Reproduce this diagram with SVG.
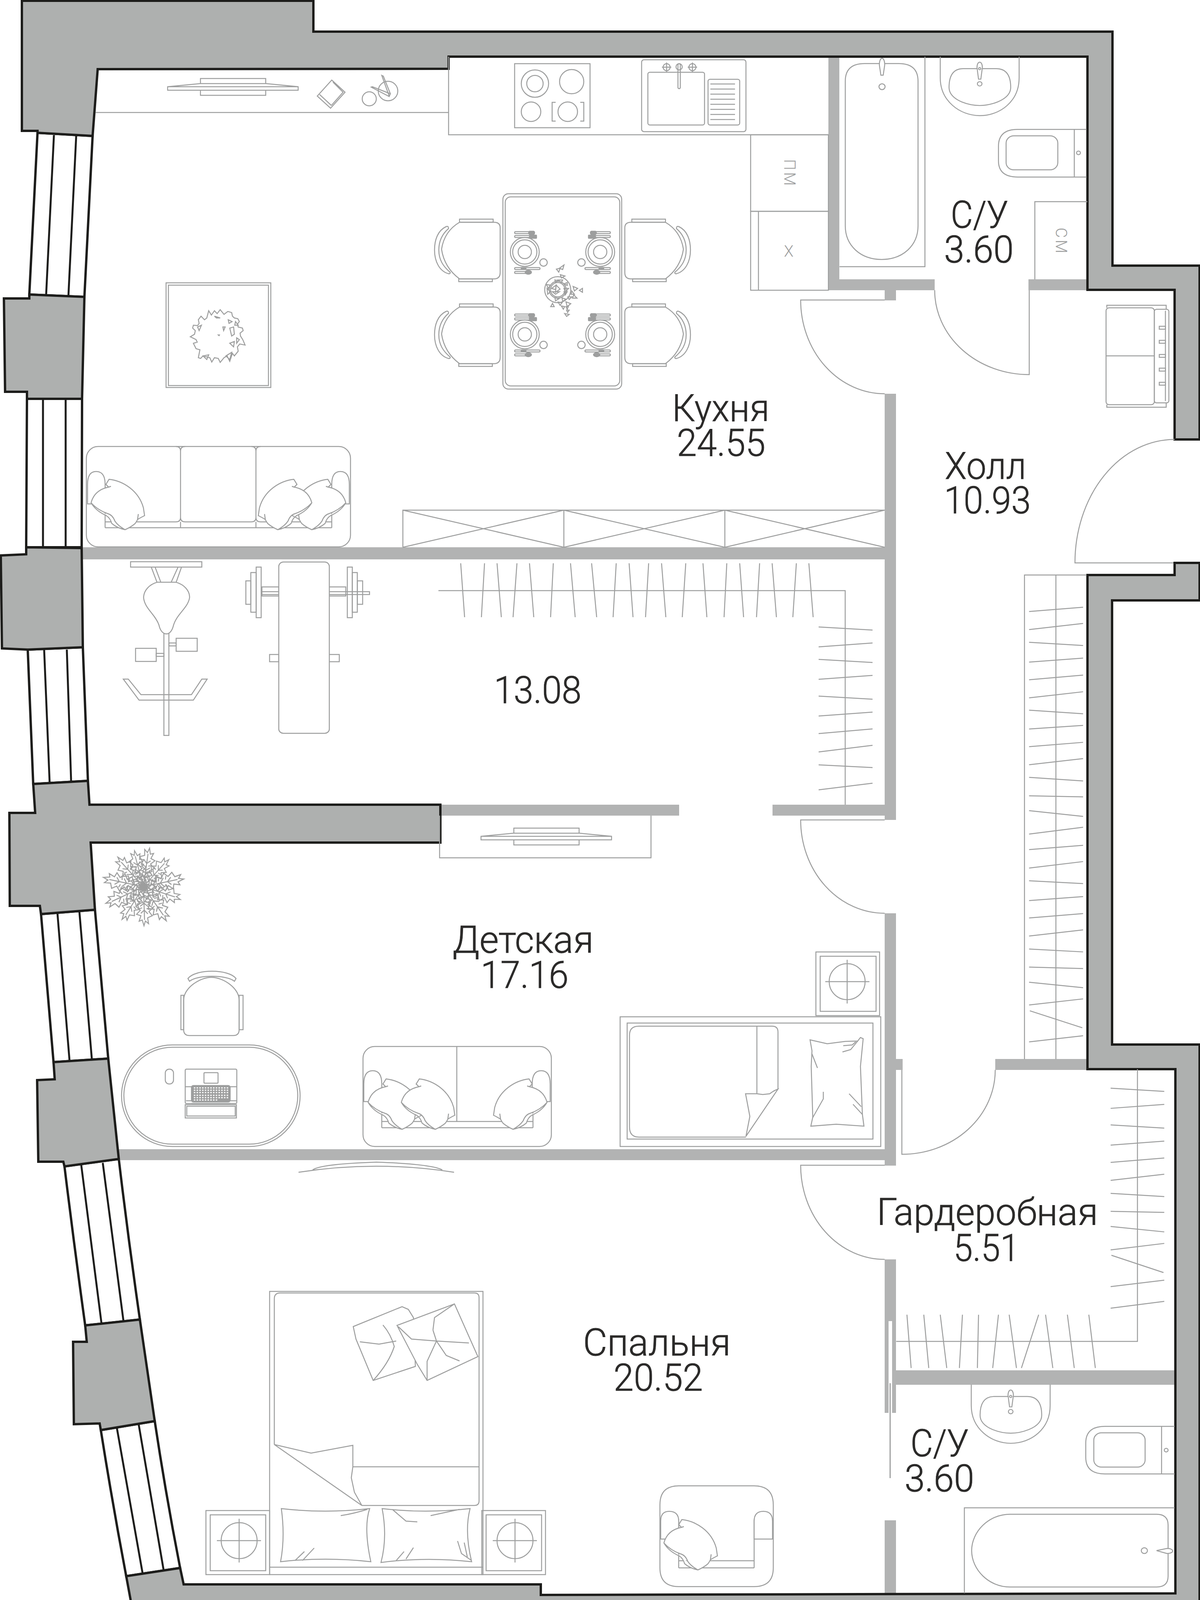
<svg xmlns="http://www.w3.org/2000/svg" xmlns:xlink="http://www.w3.org/1999/xlink" width="3071" height="4146" viewBox="0 0 3071 4146">
<style>
.w{fill:#aeb0af;stroke:#1d1d1b;stroke-width:6;stroke-linejoin:miter}
.g{fill:#fff;stroke:#1d1d1b;stroke-width:6;stroke-linejoin:miter}
.m{fill:none;stroke:#1d1d1b;stroke-width:5}
.i{fill:#b2b3b3;stroke:none}
.l,.l *{fill:none;stroke:#9d9e9e;stroke-width:2.5;vector-effect:non-scaling-stroke}
.p{fill:#fff}
.k{fill:#9d9e9e}
.l .p{fill:#fff}
.l .k{fill:#9d9e9e}
.t{font-family:Roboto,"Liberation Sans",sans-serif;font-weight:300;font-size:96px;fill:#2b2a29;stroke:#2b2a29;stroke-width:1}
.s{font-family:Roboto,"Liberation Sans",sans-serif;font-weight:300;font-size:40px;fill:#9d9e9e;letter-spacing:5px}
</style>
<defs>
<path id="pil" class="p" d="M-41,-129 C-5,-125 35,-100 47,-56 L50,-36 Q38,-30 32,-26 Q28,-18 25,-15 Q14,-6 0,0 Q-18,-10 -26,-22 Q-32,-38 -44,-41 Q-70,-50 -87,-69 Q-78,-102 -42,-109 L-49,-116 Z M-87,-69 Q-75,-48 -48,-36 Q-38,-30 -34,-16 Q-20,-4 0,0 M-42,-109 L-36,-111 M32,-26 L34,-40"/>
<g id="tv"><rect x="513" y="201" width="167" height="43"/><path class="p" d="M429,222 L512,214 H681 L763,222 V231 H429 Z M429,222 H763"/></g>
<g id="chair"><path class="p" d="M1176,569 Q1137,592 1130,638 Q1137,685 1176,714 H1264 Q1280,714 1280,698 V583 Q1280,569 1264,569 Z"/><rect x="1176" y="561" width="86" height="8"/><rect x="1174" y="714" width="86" height="7"/><path d="M1142,580 C1120,590 1112,615 1112,640 C1112,668 1124,695 1149,701 Q1153,700 1152,697 C1134,682 1123,665 1123,640 C1123,615 1134,597 1148,585 Q1148,578 1142,580 Z"/></g>
<g id="setting"><circle r="37"/><circle r="31"/><circle r="17"/><circle cx="48" cy="27" r="9.5"/><rect x="-26" y="-52" width="40" height="5" rx="2.5"/><rect class="k" x="10" y="-53" width="15" height="8" rx="3"/><rect x="-26" y="-42" width="44" height="5" rx="2.5"/><rect class="k" x="12" y="-43" width="18" height="8" rx="1"/><rect x="-26" y="40" width="65" height="5" rx="2.5"/><rect class="k" x="-9" y="40" width="12" height="4"/><rect x="-26" y="50" width="40" height="5" rx="2.5"/><ellipse class="k" cx="9" cy="52" rx="8" ry="5"/></g>
<path id="br" d="M0,0 L-4,-15 L-14,-18 L-7,-30 L-20,-35 L-10,-46 L-22,-55 L-12,-64 L-20,-75 L-8,-80 L-10,-95 L-2,-88 L2,-100 L6,-85 L14,-88 L9,-74 L20,-70 L10,-60 L21,-50 L9,-42 L18,-32 L6,-26 L12,-15 L3,-12 Z M0,0 L0,-85 M0,-24 L-9,-33 M0,-24 L8,-32 M0,-42 L-11,-52 M0,-42 L10,-50 M0,-60 L-9,-70 M0,-60 L9,-68 M-5,-38 L-12,-41 M5,-36 L12,-38 M-6,-56 L-14,-59 M5,-54 L13,-56"/>
<g id="ns"><rect x="-85" y="-77" width="163" height="164"/><rect x="-74" y="-66" width="142" height="143"/><ellipse cx="0" cy="0" rx="46" ry="46"/><path d="M-57,0 H56 M0,-56 V56"/></g>
<g id="sink"><path d="M0,0 V58 C0,123 52,163 103,163 C157,163 206,123 206,58 V0"/><path d="M23,85 Q23,33 60,33 H146 Q184,33 184,85 Q184,110 150,125 Q103,145 56,125 Q23,110 23,85 Z"/><path class="p" d="M96,30 C96,10 110,10 110,30 L106,62 H100 Z"/><circle cx="103" cy="75" r="6"/><circle cx="103" cy="33" r="3"/></g>
</defs>

<g id="windows">
<path class="g" d="M96,340 L237,348 L216,760 L75,754 Z"/><path class="m" d="M138,346 L118,756 M195,348 L175,759"/>
<path class="g" d="M69,1021 H210 L209,1401 H67 Z"/><path class="m" d="M110,1021 V1401 M168,1021 V1401"/>
<path class="g" d="M71,1663 L212,1657 L225,1999 L85,2007 Z"/><path class="m" d="M113,1664 L127,2003 M171,1663 L182,2000"/>
<path class="g" d="M105,2340 L243,2329 L277,2710 L137,2719 Z"/><path class="m" d="M147,2338 L178,2716 M203,2332 L235,2711"/>
<path class="g" d="M165,2986 L304,2967 Q328,3170 358,3378 L218,3393 Q190,3190 165,2986 Z"/><path class="m" d="M208,2983 L260,3390 M263,2977 L316,3382"/>
<path class="g" d="M258,3661 L396,3638 Q425,3830 461,4014 L323,4035 Q288,3850 258,3661 Z"/><path class="m" d="M299,3655 L365,4028 M355,3647 L419,4021"/>
</g>

<g id="inner-walls">
<rect class="i" x="210" y="1401" width="2083" height="31"/>
<rect class="i" x="2264" y="1008" width="29" height="1091"/>
<rect class="i" x="2264" y="2338" width="29" height="646"/>
<rect class="i" x="2293" y="2711" width="17" height="28"/>
<rect class="i" x="2264" y="3224" width="29" height="158"/>
<rect class="i" x="2264" y="3382" width="10" height="235"/>
<rect class="i" x="2283" y="3382" width="10" height="235"/>
<rect class="i" x="2264" y="3892" width="29" height="187"/>
<rect class="i" x="2120" y="145" width="28" height="598"/>
<rect class="i" x="2120" y="715" width="272" height="28"/>
<rect class="i" x="2632" y="715" width="151" height="28"/>
<rect class="i" x="2264" y="743" width="29" height="26"/>
<rect class="i" x="1127" y="2060" width="611" height="28"/>
<rect class="i" x="1977" y="2060" width="316" height="28"/>
<rect class="i" x="304" y="2942" width="1989" height="28"/>
<rect class="i" x="2547" y="2711" width="236" height="28"/>
<rect class="i" x="2283" y="3508" width="725" height="37"/>
</g>

<g id="outer-walls">
<path class="w" d="M56,2 H802 V81 H2847 V680 H3070 V1125 H3006 V742 H2783 V145 H1148 V176 L250,177 L237,348 L96,340 V335 H56 Z"/>
<path class="w" d="M10,764 H75 V754 L216,760 L210,1021 H69 V1003 H13 Z"/>
<path class="w" d="M67,1401 V1419 L2,1422 L5,1660 L71,1663 L212,1657 L209,1403 Z"/>
<path class="w" d="M85,2007 L90,2081 H24 L25,2319 H102 L105,2340 L243,2329 L232,2157 H1127 V2060 H229 L225,1999 Z"/>
<path class="w" d="M137,2719 L140,2763 L95,2765 L98,2974 H162 L165,2986 L304,2967 L277,2710 Z"/>
<path class="w" d="M218,3393 L222,3435 H187 L189,3646 L255,3644 L258,3661 L396,3638 L358,3378 Z"/>
<path class="w" d="M323,4035 L343,4143 H3070 V2674 H2846 V1537 H3070 V1441 H3006 V1472 H2783 V2737 H3008 V4079 L1384,4083 V4056 H470 L461,4014 Z"/>
</g>

<g id="kitchen" class="l">
<path d="M245,288 H1148 M1148,145 V345 H2120"/>
<use xlink:href="#tv" href="#tv"/>
<path d="M849,205 L883,236 L846,277 L812,246 Z M818,242 L848,270 M852,210 L878,236 L848,270"/>
<circle cx="945" cy="253" r="18"/><circle cx="993" cy="233" r="25"/>
<path d="M977,193 L981,195 L999,240 L996,246 Z M950,223 L953,222 L999,240 L996,247 Z"/>
<rect x="1317" y="163" width="193" height="164"/>
<circle cx="1369" cy="214" r="35"/><circle cx="1369" cy="214" r="21"/><circle cx="1463" cy="209" r="31"/><circle cx="1359" cy="286" r="25"/><circle cx="1453" cy="286" r="25"/>
<path d="M1422,262 H1413 V310 H1422 M1485,262 H1494 V310 H1485"/>
<rect x="1642" y="153" width="267" height="184" rx="6"/><rect x="1658" y="185" width="145" height="135" rx="5"/><rect x="1812" y="203" width="81" height="117" rx="5"/>
<path d="M1818,215 H1881 M1818,228 H1881 M1818,241 H1881 M1818,254 H1881 M1818,267 H1881 M1818,280 H1881 M1818,293 H1881 M1818,306 H1881"/>
<rect x="1735" y="163" width="6" height="64" rx="3"/><circle cx="1738" cy="171" r="8"/>
<circle cx="1706" cy="172" r="9"/><path d="M1694,172 H1718 M1706,160 V184"/><circle cx="1772" cy="172" r="9"/><path d="M1760,172 H1784 M1772,160 V184"/>
<rect x="1921" y="345" width="199" height="196"/><rect x="1921" y="541" width="199" height="202"/><path d="M1941,541 V743"/>
<path d="M1031,1401 V1306 H2264 M1443,1306 V1401 M1855,1306 V1401 M1031,1306 L1443,1401 M1443,1306 L1031,1401 M1443,1306 L1855,1401 M1855,1306 L1443,1401 M1855,1306 L2264,1401 M2264,1306 L1855,1401"/>
<rect x="425" y="724" width="268" height="268"/><rect x="431" y="730" width="256" height="257"/>
<g transform="matrix(.98 0 0 .925 0 0)"><path d="M545,860 L552,872 L560,860 L567,868 L575,857 L585,870 L595,862 L605,865 L607,875 L612,880 L621,882 L625,890 L620,897 L622,905 L633,908 L635,915 L627,922 L628,930 L634,940 L640,955 L626,952 L620,960 L622,972 L612,985 L607,978 L600,1000 L593,985 L585,990 L575,1003 L570,992 L560,990 L553,1002 L548,990 L530,985 L524,992 L518,990 L522,968 L512,965 L505,950 L515,947 L512,940 L497,932 L508,925 L510,915 L503,908 L505,900 L516,901 L520,895 L518,885 L525,875 L534,885 L540,880 Z M582,905 L588,905 L584,915 Z M600,908 L610,905 L612,925 L605,930 Z M596,885 L606,890 L598,895 Z M560,875 L575,880 L565,880 Z M600,950 L612,945 L610,960 Z M516,905 L526,900 L520,915 Z M530,985 L545,982 L540,995 Z M618,935 L625,940 L618,950 Z M615,890 L622,900 L613,900 Z M570,927 L573,927 L572,929 Z M590,985 L605,975 L600,995 Z"/></g>
<rect x="1287" y="496" width="304" height="500" rx="14"/><rect x="1293" y="504" width="293" height="484" rx="14"/>
<use xlink:href="#setting" href="#setting" transform="translate(1343,645)"/>
<use xlink:href="#setting" href="#setting" transform="translate(1343,856)"/>
<use xlink:href="#setting" href="#setting" transform="matrix(-1 0 0 1 1536 645)"/>
<use xlink:href="#setting" href="#setting" transform="matrix(-1 0 0 1 1536 856)"/>
<g transform="matrix(.3333 0 0 .3333 1280 490)"><circle cx="442" cy="755" r="100"/><circle cx="442" cy="755" r="65"/><circle cx="442" cy="755" r="55"/>
<path d="M490,565 L480,600 L455,590 Z M432,597 L460,590 L450,620 Z M462,640 L497,650 L470,665 Z M445,680 L480,680 L470,700 Z M490,710 L515,700 L515,722 Z M355,715 L385,720 L370,745 Z M360,745 L385,770 L365,790 Z M395,745 L430,720 L425,755 Z M430,720 L460,750 L425,775 Z M400,770 L455,770 L425,790 Z M490,745 L525,745 L500,775 Z M490,770 L515,770 L500,795 Z M560,730 L595,745 L570,765 Z M632,745 L632,775 L608,760 Z M550,765 L570,790 L545,790 Z M565,795 L590,820 L555,820 Z M520,810 L550,810 L530,830 Z M420,815 L450,825 L425,840 Z M475,818 L505,828 L480,845 Z M445,850 L475,855 L460,875 Z M388,885 L415,885 L402,860 Z M505,848 L542,862 L515,885 Z M470,880 L495,885 L485,905 Z M505,885 L525,880 L515,905 Z M510,912 L530,912 L518,930 Z M495,938 L530,945 L510,960 Z M420,680 L445,685 L425,700 Z"/></g>
<use xlink:href="#chair" href="#chair"/>
<use xlink:href="#chair" href="#chair" transform="translate(0,217)"/>
<use xlink:href="#chair" href="#chair" transform="matrix(-1 0 0 1 2879 0)"/>
<use xlink:href="#chair" href="#chair" transform="matrix(-1 0 0 1 2879 217)"/>
<rect x="221" y="1143" width="676" height="257" rx="30"/>
<path d="M462,1155 V1325 M655,1155 V1325"/>
<path d="M269,1351 H849 M269,1336 H450 M474,1336 H643 M667,1336 H849 M269,1240 V1351 M849,1240 V1351 M462,1155 Q462,1143 450,1143 M462,1155 Q462,1143 474,1143 M655,1155 Q655,1143 643,1143 M655,1155 Q655,1143 667,1143 M462,1325 Q462,1336 450,1336 M462,1325 Q462,1336 474,1336 M655,1325 Q655,1336 643,1336 M655,1325 Q655,1336 667,1336 M462,1336 V1351 M655,1336 V1351"/>
<path class="p" d="M224,1240 Q224,1207 246,1207 Q269,1207 269,1240 V1290 H224 Z M849,1240 Q849,1207 871,1207 Q894,1207 894,1240 V1290 H849 Z"/>
<use xlink:href="#pil" href="#pil" transform="matrix(-1 0 0 1 798 1356)"/>
<use xlink:href="#pil" href="#pil" transform="matrix(-1 0 0 1 711 1356)"/>
<use xlink:href="#pil" href="#pil" transform="translate(320,1356)"/>
</g>

<g id="bath-1" class="l" transform="matrix(.98 0 0 .925 1536 0)">
<path d="M625,738 H848 V157"/>
<path d="M640,225 Q640,176 690,176 H780 Q830,176 830,225 V625 C830,680 790,718 735,718 C680,718 640,680 640,625 Z"/>
<path class="p" d="M729,180 C729,155 743,155 743,180 L739,208 H733 Z"/><circle cx="736" cy="240" r="8"/>
<use xlink:href="#sink" href="#sink" transform="translate(888,157)"/>
<path d="M1238,358 H1090 Q1040,358 1040,405 V445 Q1040,490 1090,490 H1238 M1238,358 V490 H1270 M1238,358 H1270"/>
<rect x="1060" y="376" width="135" height="94" rx="20"/><circle cx="1249" cy="423" r="5"/>
<path d="M1135,773 V558 H1272"/>
</g>

<g id="hall" class="l">
<path d="M2264,768 H2049 A215,240 0 0 0 2264,1008"/>
<path d="M2392,743 A242,216 0 0 0 2634,959 V743"/>
<path d="M3003,1441 H2751 A255,316 0 0 1 3006,1125"/>
<path d="M2264,2099 H2049 A215,239 0 0 0 2264,2338"/>
<path d="M2547,2739 A239,216 0 0 1 2308,2955 V2739"/>
<path d="M2264,2983 H2049 A215,241 0 0 0 2264,3224"/>
<g transform="matrix(.98 0 0 .925 1536 0)">
<rect x="1321" y="852" width="126" height="268" rx="8"/><path d="M1321,985 H1447 M1323,852 V845 H1478 V856 M1323,1120 V1127 H1478 V1115"/>
<rect x="1447" y="856" width="38" height="259" rx="6"/><path d="M1476,860 V1110"/>
<path d="M1460,903 H1476 V911 H1460 Z M1460,942 H1476 V950 H1460 Z M1460,981 H1476 V989 H1460 Z M1460,1019 H1476 V1027 H1460 Z M1460,1058 H1476 V1066 H1460 Z"/>
</g>
<g transform="matrix(.98 0 0 .925 1536 1350)">
<path d="M1108,1472 V132 H1270 M1190,132 V1472"/>
<path d="M1120,233 L1261,221 M1120,283 L1261,266 M1120,318 L1261,327 M1120,373 L1261,362 M1120,422 L1261,409 M1120,472 L1261,455 M1120,506 L1261,516 M1120,558 L1261,548 M1120,607 L1261,595 M1120,657 L1261,640 M1120,692 L1261,702 M1120,743 L1261,746 M1120,784 L1261,800 M1120,849 L1261,830 M1120,892 L1261,880 M1120,943 L1261,925 M1120,978 L1261,986 M1120,1033 L1261,1022 M1120,1081 L1261,1069 M1120,1131 L1261,1114 M1120,1167 L1261,1175 M1120,1217 L1261,1221 M1120,1259 L1261,1274 M1120,1322 L1261,1305 M1122,1338 L1259,1385 M1120,1424 L1261,1407"/>
</g>
</g>

<g id="gym" class="l">
<path d="M1122,1512 H2163 V2060"/>
<path d="M1179,1442 L1189,1580 M1240,1442 L1232,1580 M1272,1442 L1283,1580 M1323,1442 L1313,1580 M1355,1442 L1366,1580 M1416,1442 L1409,1580 M1460,1442 L1472,1580 M1514,1442 L1527,1580 M1577,1442 L1569,1580 M1610,1442 L1620,1580 M1660,1442 L1652,1580 M1693,1442 L1704,1580 M1755,1442 L1746,1580 M1799,1442 L1809,1580 M1860,1442 L1853,1580 M1893,1442 L1903,1580 M1944,1442 L1936,1580 M1976,1442 L1987,1580 M2038,1442 L2029,1580 M2070,1442 L2081,1580"/>
<path d="M2095,1605 L2233,1613 M2095,1656 L2233,1646 M2095,1688 L2233,1696 M2095,1739 L2233,1729 M2095,1782 L2233,1790 M2095,1833 L2233,1823 M2095,1878 L2233,1866 M2095,1925 L2233,1908 M2095,1958 L2233,1965 M2095,2022 L2233,2005"/>
<g transform="matrix(.98 0 0 .925 0 1350)">
<rect x="341" y="95" width="186" height="15"/>
<path d="M395,110 L410,152 M405,110 L420,152 M474,110 L460,152 M465,110 L447,152"/>
<rect x="428" y="293" width="13" height="283"/>
<path class="p" d="M410,152 L460,152 C480,158 496,175 495,195 C490,225 460,240 452,275 C448,290 440,295 435,295 C425,295 418,285 415,270 C405,240 378,225 375,195 C375,175 390,158 410,152 Z"/>
<rect x="460" y="307" width="55" height="36"/><rect x="441" y="320" width="19" height="8"/>
<rect x="354" y="335" width="54" height="36"/><rect x="408" y="349" width="20" height="8"/>
<path d="M322,420 H335 L368,463 H500 L527,420 H541 L505,478 H363 Z"/>
<path d="M683,178 H965 V186 H683 Z M684,165 H728 V190 H684 Z M860,165 H903 V190 H860 Z"/>
<rect x="669" y="110" width="13" height="140"/><rect x="655" y="125" width="14" height="110"/><rect x="642" y="148" width="13" height="65"/>
<rect x="907" y="110" width="13" height="140"/><rect x="920" y="125" width="13" height="110"/><rect x="933" y="148" width="14" height="65"/>
<rect x="704" y="352" width="24" height="20"/><rect x="860" y="352" width="26" height="20"/>
<rect class="p" x="728" y="96" width="132" height="474" rx="12"/>
</g>
</g>

<g id="kids" class="l">
<use xlink:href="#tv" href="#tv" transform="translate(802,1919)"/>
<path d="M1125,2088 V2196 H1666 V2088"/>
<g transform="translate(367,2270)">
<use xlink:href="#br" href="#br" transform="rotate(8)"/><use xlink:href="#br" href="#br" transform="rotate(42) scale(.95)"/><use xlink:href="#br" href="#br" transform="rotate(78) scale(1.05)"/><use xlink:href="#br" href="#br" transform="rotate(108)"/><use xlink:href="#br" href="#br" transform="rotate(145) scale(1.05)"/><use xlink:href="#br" href="#br" transform="rotate(178)"/><use xlink:href="#br" href="#br" transform="rotate(212)"/><use xlink:href="#br" href="#br" transform="rotate(245) scale(1.05)"/><use xlink:href="#br" href="#br" transform="rotate(282) scale(1.05)"/><use xlink:href="#br" href="#br" transform="rotate(318)"/><use xlink:href="#br" href="#br" transform="rotate(345) scale(.95)"/>
</g>
<path d="M470,2560 C470,2530 510,2502 541,2502 C572,2502 612,2530 612,2560 V2636 Q612,2651 597,2651 H485 Q470,2651 470,2636 Z"/>
<path d="M481,2505 C500,2480 585,2480 604,2505 L600,2512 C580,2495 505,2495 485,2512 Z"/>
<rect x="463" y="2548" width="7" height="88"/><rect x="612" y="2548" width="10" height="88"/>
<rect x="311" y="2675" width="457" height="260" rx="130"/><rect x="317" y="2681" width="445" height="248" rx="124"/>
<rect x="423" y="2737" width="21" height="38" rx="10"/>
<rect x="474" y="2737" width="132" height="88" rx="3"/><rect x="522" y="2746" width="36" height="27" rx="2"/>
<path d="M474,2782 H490 M589,2782 H606 M476,2818 H490 M589,2818 H606 M490,2825 H590"/>
<rect class="k" x="490" y="2779" width="99" height="42" rx="5"/>
<path style="stroke:#fff;stroke-width:3;stroke-dasharray:4 3" d="M496,2785 H585 M496,2791 H585 M496,2797 H585 M496,2804 H585 M496,2810 H585 M496,2816 H558"/>
<rect x="474" y="2828" width="131" height="34"/><rect x="478" y="2832" width="124" height="25"/>
<rect x="929" y="2679" width="482" height="256" rx="30"/>
<path d="M1169,2679 V2871 M977,2871 H1364 M977,2887 H1364 M977,2780 V2887 M1364,2780 V2887"/>
<path class="p" d="M931,2775 Q931,2741 954,2741 Q977,2741 977,2775 V2820 H931 Z M1362,2775 Q1362,2741 1385,2741 Q1408,2741 1408,2775 V2820 H1362 Z"/>
<use xlink:href="#pil" href="#pil" transform="translate(1029,2891)"/>
<use xlink:href="#pil" href="#pil" transform="translate(1114,2891)"/>
<use xlink:href="#pil" href="#pil" transform="matrix(-1 0 0 1 1313 2891)"/>
<rect x="2088" y="2437" width="163" height="163"/><rect x="2099" y="2448" width="143" height="141"/>
<circle cx="2168" cy="2513" r="46"/><path d="M2112,2513 H2225 M2168,2457 V2569"/>
<rect x="1587" y="2603" width="667" height="332"/><rect x="1605" y="2619" width="629" height="297"/>
<path d="M1991,2788 V2642 Q1991,2627 1976,2627 H1635 Q1611,2627 1611,2650 V2885 Q1611,2911 1635,2911 H1909"/>
<path d="M1937,2627 V2800 M1908,2800 H1937 L1952,2802 L1970,2800 Q1980,2792 1991,2788 L1909,2909 L1919,2858 Z"/>
<path d="M2073,2662 L2117,2672 L2163,2666 L2195,2665 L2202,2656 L2209,2659 L2202,2730 L2207,2853 L2211,2883 L2140,2878 L2075,2883 L2080,2860 L2076,2730 L2078,2690 Z"/>
<path d="M2078,2698 L2092,2734 M2107,2795 V2813 L2080,2861 M2173,2800 L2204,2833 M2183,2827 L2207,2853 M2156,2693 L2177,2687 L2195,2665 M2158,2677 L2181,2675 L2190,2667"/>
</g>

<g id="dressing" class="l" transform="matrix(.98 0 0 .922 1536 2700)">
<path d="M1403,40 V796 H773"/>
<path d="M1333,93 L1473,102 M1333,149 L1473,138 M1333,195 L1473,204 M1333,251 L1473,240 M1333,299 L1473,287 M1333,349 L1473,332 M1333,385 L1473,394 M1333,435 L1473,438 M1333,477 L1473,492 M1333,542 L1473,524 M1335,557 L1471,605 M1333,644 L1473,626 M1333,704 L1473,685"/>
<path d="M801,722 L812,870 M845,722 L858,870 M888,722 L905,870 M946,722 L938,870 M988,722 L985,870 M1040,722 L1025,870 M1068,722 L1087,870 M1145,722 L1100,870 M1163,722 L1182,870 M1220,722 L1238,870 M1276,722 L1293,870"/>
<use xlink:href="#sink" href="#sink" transform="translate(969,916)"/>
<path d="M1466,1032 H1318 Q1268,1032 1268,1078 V1118 Q1268,1164 1318,1164 H1466 M1466,1032 V1164 H1500 M1466,1032 H1500"/>
<rect x="1289" y="1050" width="134" height="95" rx="20"/><circle cx="1478" cy="1098" r="5"/>
<path d="M951,1495 V1258 H1500"/>
<path d="M1070,1276 H1453 Q1483,1276 1483,1306 V1448 Q1483,1478 1453,1478 H1070 C1015,1478 970,1430 970,1377 C970,1324 1015,1276 1070,1276 Z"/>
<circle cx="1421" cy="1377" r="8"/><path class="p" d="M1453,1377 L1480,1371 C1500,1371 1500,1385 1480,1385 Z"/>
<path d="M156,1250 Q156,1197 205,1197 H402 Q452,1197 452,1250 V1425 Q452,1477 402,1477 H205 Q156,1477 156,1425 Z"/>
<path d="M205,1425 H402 M205,1405 H402 M205,1290 V1425 M402,1290 V1425"/>
<path class="p" d="M158,1295 Q158,1268 180,1268 Q205,1268 205,1295 V1345 H158 Z M402,1295 Q402,1268 426,1268 Q450,1268 450,1295 V1345 H402 Z"/>
</g>
<use class="l" xlink:href="#pil" href="#pil" transform="translate(1786,4019)"/>

<g id="bedroom" class="l">
<path d="M764,3001 Q963,2970 1162,3001 M800,2995 Q820,2980 963,2975 Q1105,2980 1132,2995"/>
<rect x="690" y="3306" width="546" height="725"/><path d="M690,4012 H1236"/>
<path d="M702,3698 V3325 Q702,3310 717,3310 H1214 Q1226,3310 1226,3322 V3842 Q1226,3854 1214,3854 H926"/>
<path d="M702,3698 L796,3720 L903,3700 V3755 L899,3783 L907,3820 L926,3854 Z M903,3755 H1225"/>
<path class="p" d="M904,3396 L1029,3345 L1045,3352 L1058,3373 L1063,3498 L955,3534 L911,3428 Z"/>
<path d="M921,3435 L970,3441 L1014,3433 M955,3534 Q995,3490 1009,3447 Q1000,3415 980,3392"/>
<path class="p" d="M1016,3393 L1163,3338 L1223,3473 L1093,3534 L1068,3493 Z"/>
<path d="M1117,3433 L1200,3438 M1108,3405 L1117,3433 L1093,3485 V3534 M1163,3338 L1112,3373 L1108,3405 M1019,3396 L1053,3428 L1117,3433 M1117,3433 L1142,3470 L1176,3484"/>
<path d="M720,3862 Q833,3875 946,3862 Q930,3910 949,3998 Q833,3985 718,3998 Q730,3936 720,3862 Z M755,3995 L779,3972 M774,3995 L804,3963 M872,3880 Q905,3875 940,3864"/>
<path d="M978,3862 Q1088,3875 1203,3862 Q1188,3920 1207,3998 Q1088,3985 975,4000 Q992,3936 978,3862 Z M1004,3864 L1039,3894 L1068,3896 M1102,3880 L1176,3864 M1014,3995 L1034,3972 M1039,3991 L1058,3962 M1171,3945 L1181,3977 L1207,3995 M1188,3949 L1196,3986"/>
<use xlink:href="#ns" href="#ns" transform="translate(612,3944)"/>
<use xlink:href="#ns" href="#ns" transform="translate(1318,3944)"/>
</g>

<rect x="2276.500" y="3541" width="3" height="243" fill="#9d9e9e"/>

<g id="labels">
<text class="t" x="1720" y="1078" textLength="249" lengthAdjust="spacingAndGlyphs">Кухня</text>
<text class="t" x="1732" y="1167" textLength="227" lengthAdjust="spacingAndGlyphs">24.55</text>
<text class="t" x="2433" y="583" textLength="147" lengthAdjust="spacingAndGlyphs">С/У</text>
<text class="t" x="2416" y="672" textLength="178" lengthAdjust="spacingAndGlyphs">3.60</text>
<text class="t" x="2418" y="1226" textLength="208" lengthAdjust="spacingAndGlyphs">Холл</text>
<text class="t" x="2416" y="1314" textLength="222" lengthAdjust="spacingAndGlyphs">10.93</text>
<text class="t" x="1264" y="1800" textLength="224" lengthAdjust="spacingAndGlyphs">13.08</text>
<text class="t" x="1158" y="2439" textLength="361" lengthAdjust="spacingAndGlyphs">Детская</text>
<text class="t" x="1230" y="2529" textLength="225" lengthAdjust="spacingAndGlyphs">17.16</text>
<text class="t" x="2244" y="3136" textLength="566" lengthAdjust="spacingAndGlyphs">Гардеробная</text>
<text class="t" x="2440" y="3228" textLength="169" lengthAdjust="spacingAndGlyphs">5.51</text>
<text class="t" x="1492" y="3470" textLength="378" lengthAdjust="spacingAndGlyphs">Спальня</text>
<text class="t" x="1570" y="3560" textLength="229" lengthAdjust="spacingAndGlyphs">20.52</text>
<text class="t" x="2330" y="3728" textLength="149" lengthAdjust="spacingAndGlyphs">С/У</text>
<text class="t" x="2315" y="3818" textLength="178" lengthAdjust="spacingAndGlyphs">3.60</text>
<text class="s" transform="translate(2007,444) rotate(90)" text-anchor="middle">ПМ</text>
<text class="s" x="2021" y="657" text-anchor="middle">Х</text>
<text class="s" transform="translate(2702,618) rotate(90)" text-anchor="middle">СМ</text>
</g>
</svg>
